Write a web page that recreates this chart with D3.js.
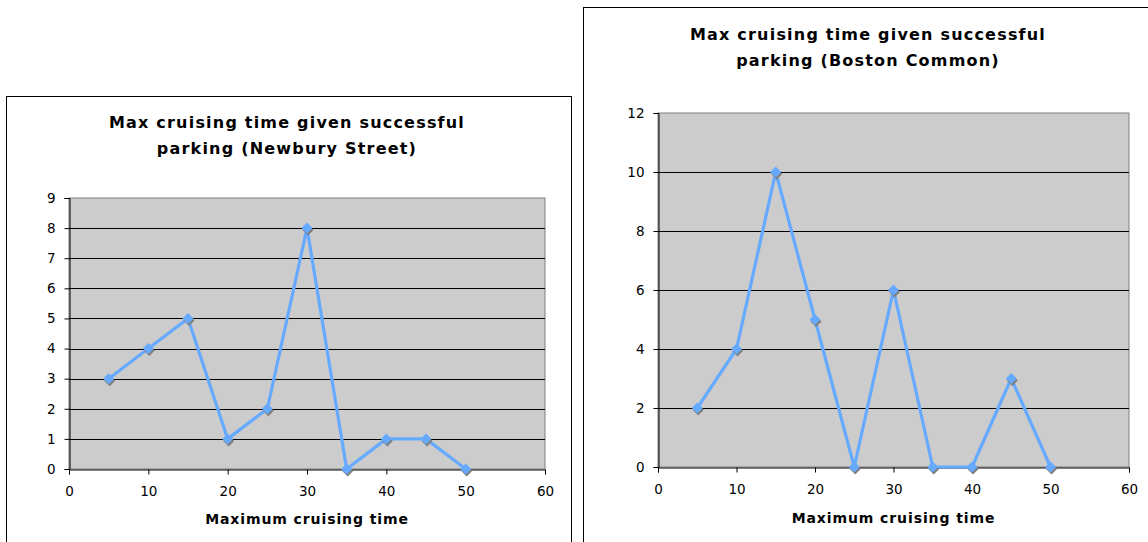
<!DOCTYPE html>
<html><head><meta charset="utf-8">
<script src="https://cdn.jsdelivr.net/npm/d3@7/dist/d3.min.js"></script>
<style>body{margin:0;background:#fff;} svg{display:block;}</style>
</head><body>
<svg id="c" width="1148" height="542"></svg>
<script>
const xValues = [5, 10, 15, 20, 25, 30, 35, 40, 45, 50];
const newburyValues = [3, 4, 5, 1, 2, 8, 0, 1, 1, 0];
const bostonValues = [2, 4, 10, 5, 0, 6, 0, 0, 3, 0];
const xTicks = [0, 10, 20, 30, 40, 50, 60];
const newburyYTicks = [0,1,2,3,4,5,6,7,8,9];
const bostonYTicks = [0,2,4,6,8,10,12];
const titleNewbury = ["Max cruising time given successful", "parking (Newbury Street)"];
const titleBoston = ["Max cruising time given successful", "parking (Boston Common)"];
const xTitle = "Maximum cruising time";

const svg = d3.select("#c");
const FONT = "'DejaVu Sans', Verdana, sans-serif";

function chart(cfg) {
  const g = svg.append("g");
  g.append("rect").attr("x", cfg.frame[0] + 0.5).attr("y", cfg.frame[1] + 0.5)
    .attr("width", cfg.frame[2]).attr("height", cfg.frame[3])
    .attr("fill", "#fff").attr("stroke", "#000").attr("stroke-width", 1);
  const x = d3.scaleLinear().domain([0, 60]).range([cfg.px0, cfg.px1]);
  const y = d3.scaleLinear().domain([0, cfg.ymax]).range([cfg.py0, cfg.py1]);
  g.append("rect").attr("x", cfg.px0).attr("y", cfg.py1)
    .attr("width", cfg.px1 - cfg.px0).attr("height", cfg.py0 - cfg.py1)
    .attr("fill", "#cccccc").attr("stroke", "#808080").attr("stroke-width", 1);
  g.append("g").selectAll("line").data(cfg.yTicks.filter(d => d > 0 && d < cfg.ymax)).join("line")
    .attr("x1", cfg.px0).attr("x2", cfg.px1)
    .attr("y1", d => Math.round(y(d)) + 0.5).attr("y2", d => Math.round(y(d)) + 0.5)
    .attr("stroke", "#000").attr("stroke-width", 1);
  const ya = g.append("g").attr("transform", `translate(${cfg.px0 + 0.5},0)`)
    .call(d3.axisLeft(y).tickValues(cfg.yTicks).tickSize(5).tickPadding(9).tickFormat(d3.format("d")));
  const xa = g.append("g").attr("transform", `translate(0,${cfg.py0 + 0.5})`)
    .call(d3.axisBottom(x).tickValues(xTicks).tickSize(5).tickPadding(12).tickFormat(d3.format("d")));
  [ya, xa].forEach(a => {
    a.select(".domain").attr("stroke", "#000");
    a.selectAll(".tick line").attr("stroke", "#000");
    a.selectAll("text").attr("font-family", FONT).attr("font-size", 13.5).attr("fill", "#000");
  });
  const line = d3.line().x((d, i) => x(xValues[i])).y(d => y(d));
  g.append("path").datum(cfg.values).attr("d", line)
    .attr("fill", "none").attr("stroke", "#66aaff").attr("stroke-width", 3.2)
    .attr("stroke-linejoin", "round");
  const r = 5.5;
  const diamond = `M0,${-r}L${r},0L0,${r}L${-r},0Z`;
  g.append("g").selectAll("path").data(cfg.values).join("path")
    .attr("d", diamond).attr("transform", (d, i) => `translate(${x(xValues[i]) + 1},${y(d) + 2})`)
    .attr("fill", "#7f7f7f");
  g.append("g").selectAll("path").data(cfg.values).join("path")
    .attr("d", diamond).attr("transform", (d, i) => `translate(${x(xValues[i])},${y(d)})`)
    .attr("fill", "#66aaff");
  g.append("text").attr("x", cfg.tx).attr("y", cfg.ty).attr("text-anchor", "middle")
    .attr("font-family", FONT).attr("font-weight", "bold").attr("font-size", 16)
    .attr("letter-spacing", 1.2)
    .selectAll("tspan").data(cfg.title).join("tspan")
    .attr("x", cfg.tx).attr("dy", (d, i) => i === 0 ? 0 : 26).text(d => d);
  g.append("text").attr("x", (cfg.px0 + cfg.px1) / 2).attr("y", cfg.xty).attr("text-anchor", "middle")
    .attr("font-family", FONT).attr("font-weight", "bold").attr("font-size", 14)
    .attr("letter-spacing", 0.9).text(xTitle);
}

chart({frame: [6, 96, 565, 460], px0: 69, px1: 545, py0: 469, py1: 198, ymax: 9,
  yTicks: newburyYTicks, values: newburyValues, title: titleNewbury, tx: 287, ty: 128, xty: 524});
chart({frame: [583, 7, 580, 560], px0: 658, px1: 1129, py0: 467, py1: 113, ymax: 12,
  yTicks: bostonYTicks, values: bostonValues, title: titleBoston, tx: 868, ty: 40, xty: 523});
</script>
</body></html>
